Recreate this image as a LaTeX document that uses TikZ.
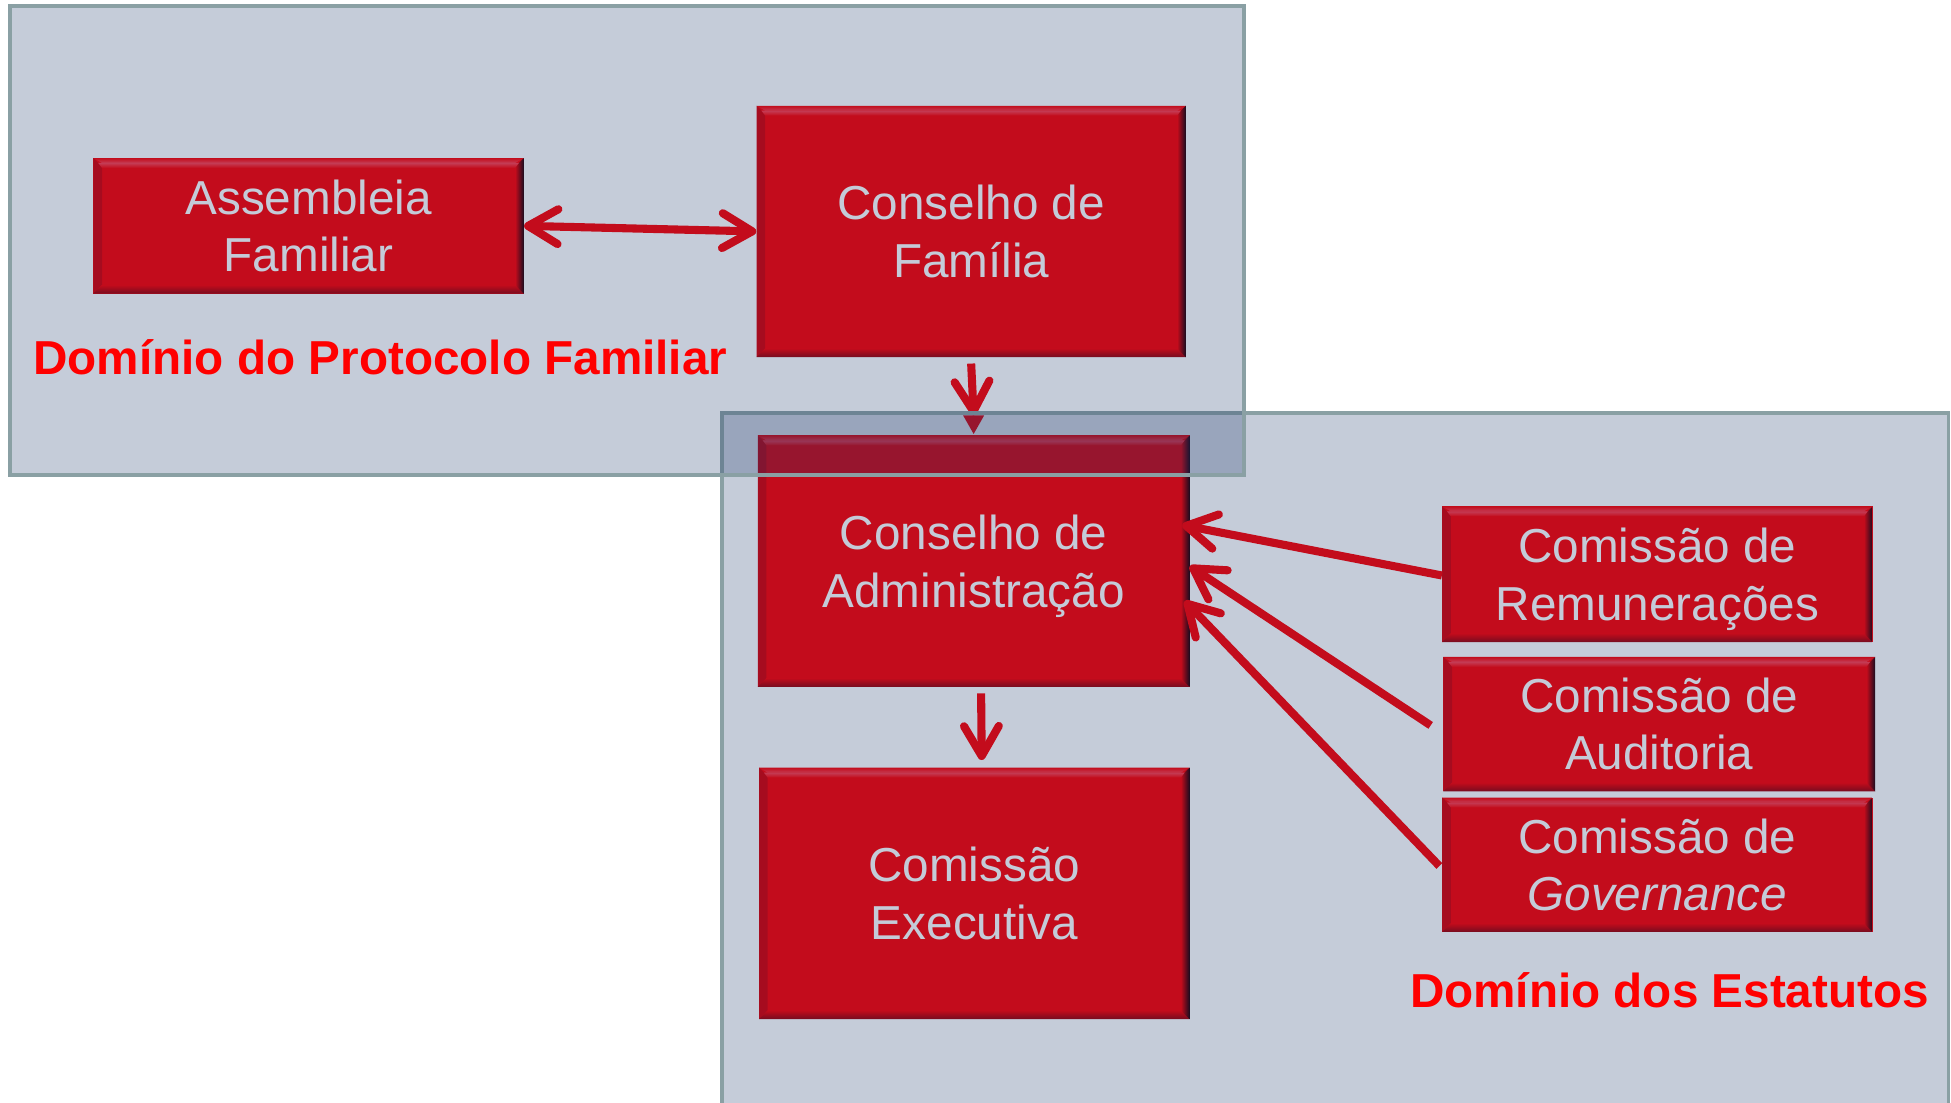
\documentclass[tikz,border=0pt]{standalone}
\usepackage{fontspec}
\setmainfont{Liberation Sans}
\usetikzlibrary{arrows.meta}
\definecolor{boxred}{RGB}{253,0,3}
\definecolor{bevtop}{RGB}{255,62,78}
\definecolor{bevbot}{RGB}{150,0,8}
\definecolor{bevleft}{RGB}{215,0,8}
\definecolor{bevdark}{RGB}{25,0,8}
\definecolor{ovl}{RGB}{23,51,103}
\definecolor{framecol}{RGB}{138,160,164}
\definecolor{lblred}{RGB}{255,0,0}
\newcommand{\nodepth}[1]{\raisebox{0pt}[\height][0pt]{#1}}
\begin{document}
\begin{tikzpicture}[x=1pt,y=-1pt,
  box/.style={rectangle, inner sep=0pt, fill=boxred, text=white, align=center,
    font=\fontsize{38.3}{46}\selectfont,
    path picture={
      \coordinate (bnw) at (path picture bounding box.north west);
      \coordinate (bne) at (path picture bounding box.north east);
      \coordinate (bsw) at (path picture bounding box.south west);
      \coordinate (bse) at (path picture bounding box.south east);
      \fill[bevleft] (bnw) -- ([xshift=7pt,yshift=-7pt]bnw) -- ([xshift=7pt,yshift=7pt]bsw) -- (bsw) -- cycle;
      \shade[top color=boxred, bottom color=bevbot] (bsw) -- ([xshift=7pt,yshift=7pt]bsw) -- ([xshift=-7pt,yshift=7pt]bse) -- (bse) -- cycle;
      \shade[left color=boxred, right color=bevdark] (bne) -- ([xshift=-7pt,yshift=-7pt]bne) -- ([xshift=-7pt,yshift=7pt]bse) -- (bse) -- cycle;
      \shade[top color=boxred, bottom color=bevtop] (bnw) -- (bne) -- ([xshift=-7pt,yshift=-4pt]bne) -- ([xshift=7pt,yshift=-4pt]bnw) -- cycle;
      \shade[top color=bevtop, bottom color=boxred] ([xshift=4pt,yshift=-4pt]bnw) -- ([xshift=-4pt,yshift=-4pt]bne) -- ([xshift=-7pt,yshift=-8pt]bne) -- ([xshift=7pt,yshift=-8pt]bnw) -- cycle;
    }},
  barb/.tip={Straight Barb[length=24pt, width=28pt, line width=6.5pt, round]},
  conn/.style={draw=boxred, line width=6.5pt, -barb},
  conn2/.style={draw=boxred, line width=6.5pt, barb-barb},
  domainframe/.style={fill=ovl, fill opacity=0.25, draw=framecol, draw opacity=1, line width=3pt},
  lbl/.style={inner sep=0pt, text=lblred, font=\fontsize{38.3}{46}\selectfont\bfseries}
]
\useasboundingbox (0,0) rectangle (1568,885.7);
\clip (0,0) rectangle (1568,885.7);

% boxes
\node[box, minimum width=346pt, minimum height=109pt] (asm) at (248,181.5) {Assembleia\\Familiar};
\node[box, minimum width=345pt, minimum height=202pt] (cf) at (780.5,186) {Conselho de\\Família};
\node[box, minimum width=347pt, minimum height=202pt] (ca) at (782.5,451) {Conselho de\\\nodepth{Administração}};
\node[box, minimum width=346pt, minimum height=202pt] (ce) at (783,718) {Comissão\\Executiva};
\node[box, minimum width=346pt, minimum height=109pt] (rem) at (1332,461.5) {Comissão de\\\nodepth{Remunerações}};
\node[box, minimum width=347pt, minimum height=108pt] (aud) at (1333.5,582) {Comissão de\\Auditoria};
\node[box, minimum width=346pt, minimum height=108pt] (gov) at (1332,695) {Comissão de\\\textit{Governance}};

% connectors
\draw[conn2] (asm.east) -- (cf.west);
\draw[conn] ([yshift=-5pt]cf.south) -- ([yshift=16pt]ca.north);
\fill[boxred] ([xshift=-8.5pt,yshift=16pt]ca.north) -- ([xshift=8.5pt,yshift=16pt]ca.north) -- ([yshift=1pt]ca.north) -- cycle;
\draw[conn] ([xshift=6pt,yshift=-5pt]ca.south) -- ([xshift=6pt,yshift=6pt]ce.north);
\draw[conn] ([yshift=-1pt]rem.west) -- ([xshift=-6pt,yshift=29pt]ca.east);
\draw[conn] ([xshift=-10pt,yshift=-1pt]aud.west) -- ([yshift=-4pt]ca.east);
\draw[conn] ([xshift=-2pt,yshift=-1pt]gov.west) -- ([xshift=-4pt,yshift=-32pt]ca.east);

% domains
\draw[domainframe] (580,332) rectangle (1566,900);
\draw[domainframe] (8,5) rectangle (1000,382);

% labels
\node[lbl, anchor=base west] (lblpf) at (26.7,300.6) {Domínio do Protocolo Familiar};
\node[lbl, anchor=base west] (lblest) at (1133,809.5) {Domínio dos Estatutos};
\end{tikzpicture}
\end{document}
